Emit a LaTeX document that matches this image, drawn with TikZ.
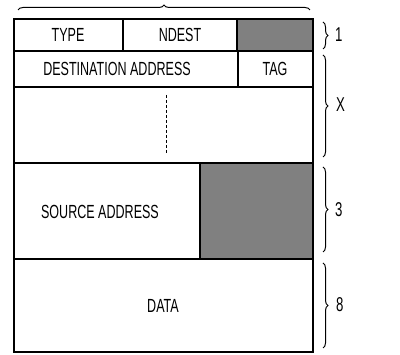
\documentclass[tikz,border=0pt]{standalone}
\usepackage{fontspec}
\setmainfont{Liberation Sans}
\newfontfamily\lab{Liberation Sans}[FakeStretch=0.66]
\usetikzlibrary{decorations.pathreplacing}
\begin{document}
\begin{tikzpicture}[x=1pt,y=1pt,
  cell/.style={line width=1.3pt},
  shade/.style={fill=black!50},
  txt/.style={font=\lab\fontsize{19}{19}\selectfont, inner sep=0pt},
  num/.style={font=\lab\fontsize{20}{20}\selectfont, inner sep=0pt, anchor=west},
  brc/.style={decorate, decoration={brace, amplitude=5pt}, line width=1pt}]
\useasboundingbox (0,0) rectangle (400,355);
% shaded areas
\fill[shade] (237,304) rectangle (313,336);
\fill[shade] (200,96) rectangle (313,192);
% outer box and rows
\draw[cell] (14,3) rectangle (313,336);
\draw[cell] (14,304) -- (313,304);
\draw[cell] (14,268) -- (313,268);
\draw[cell] (14,192) -- (313,192);
\draw[cell] (14,96) -- (313,96);
\draw[cell] (123,304) -- (123,336);
\draw[cell] (237,304) -- (237,336);
\draw[cell] (238,268) -- (238,304);
\draw[cell] (200,96) -- (200,192);
\draw[line width=1pt, dashed, dash pattern=on 3pt off 2pt] (166,260) -- (166,202);
% labels
\node[txt] (type) at (68,320) {TYPE};
\node[txt] (ndest) at (180,320) {NDEST};
\node[txt] (dest) at (117,286) {DESTINATION ADDRESS};
\node[txt] (tag) at (275,286) {TAG};
\node[txt] (src) at (100,143) {SOURCE ADDRESS};
\node[txt] (data) at (163,49) {DATA};
% braces
\coordinate (tbl) at (18,345);
\coordinate (tbr) at (310,345);
\draw[brc] (tbl) -- (tbr);
\coordinate (b1t) at (323,333); \coordinate (b1b) at (323,306);
\coordinate (bxt) at (323,300); \coordinate (bxb) at (323,198);
\coordinate (b3t) at (323,188); \coordinate (b3b) at (323,103);
\coordinate (b8t) at (323,92);  \coordinate (b8b) at (323,7);
\draw[brc] (b1t) -- (b1b);
\draw[brc] (bxt) -- (bxb);
\draw[brc] (b3t) -- (b3b);
\draw[brc] (b8t) -- (b8b);
\node[num] (n1) at (335,320) {1};
\node[num] (nx) at (336,250) {X};
\node[num] (n3) at (335,145) {3};
\node[num] (n8) at (336,50) {8};
\end{tikzpicture}
\end{document}
